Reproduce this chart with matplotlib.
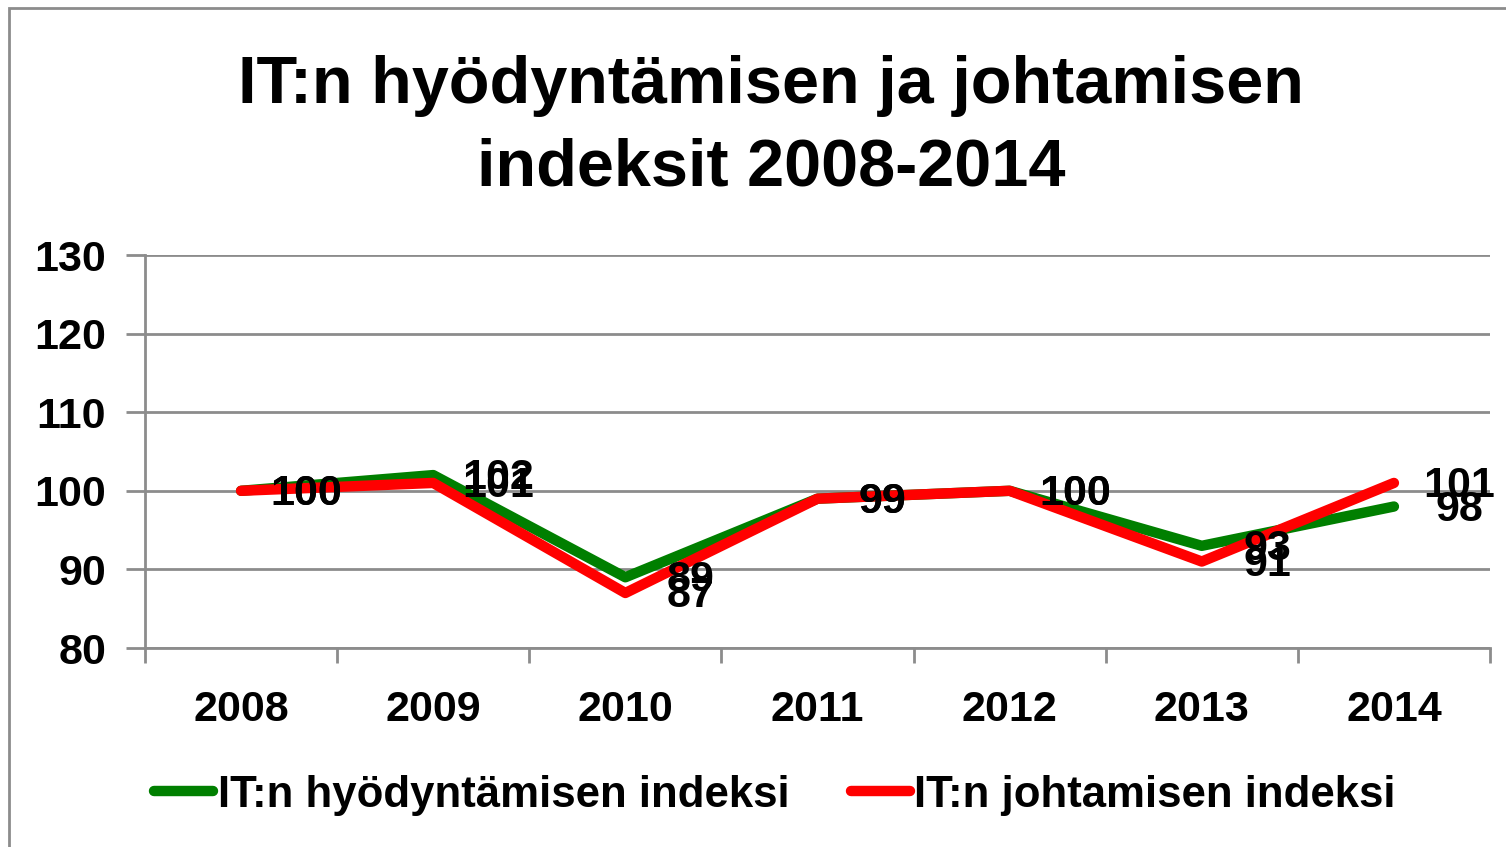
import matplotlib
matplotlib.use("Agg")
from matplotlib import pyplot as plt
from matplotlib.patches import Rectangle

# Data.
years = ['2008', '2009', '2010', '2011', '2012', '2013', '2014']
hyodyntaminen = [100, 102, 89, 99, 100, 93, 98]
johtaminen = [100, 101, 87, 99, 100, 91, 101]
y_ticks = [80, 90, 100, 110, 120, 130]

title = "IT:n hyödyntämisen ja johtamisen\nindeksit 2008-2014"
label_green = "IT:n hyödyntämisen indeksi"
label_red = "IT:n johtamisen indeksi"


def main():
    plt.rcParams['font.family'] = ['Liberation Sans', 'DejaVu Sans']
    plt.rcParams['font.weight'] = 'bold'

    fig = plt.figure(dpi=100, figsize=(15.06, 8.47))
    ax = fig.add_axes([145 / 1506, 1 - 648 / 847, 1345 / 1506, 393 / 847])

    # Outer chart border.
    fig.patches.append(Rectangle((9 / 1506, -0.01), 1.02, 1 - 8 / 847 + 0.01,
                                 transform=fig.transFigure, fill=False,
                                 edgecolor='#8c8c8c', linewidth=2))

    x = list(range(len(years)))
    ax.plot(x, hyodyntaminen, color='#007f00', linewidth=7.5,
            solid_capstyle='round', label=label_green, zorder=3)
    ax.plot(x, johtaminen, color='#ff0000', linewidth=7.5,
            solid_capstyle='round', label=label_red, zorder=4)

    # Data labels to the right of each point.
    for i in x:
        for v in (hyodyntaminen[i], johtaminen[i]):
            ax.text(i + 0.34, v - 0.4, str(v), ha='center', va='center',
                    fontsize=31, fontweight='bold', color='black', zorder=5)

    ax.set_xlim(-0.5, len(years) - 0.5)
    ax.set_ylim(80, 130)
    ax.set_yticks(y_ticks)
    ax.set_yticklabels([str(t) for t in y_ticks])
    ax.yaxis.grid(True, color='#8c8c8c', linewidth=2)
    ax.set_axisbelow(True)

    ax.set_xticks(x)
    ax.set_xticklabels(years)
    ax.set_xticks([i - 0.5 for i in range(len(years) + 1)], minor=True)
    ax.tick_params(axis='x', which='major', length=0, pad=30, labelsize=31)
    ax.tick_params(axis='x', which='minor', length=11, width=2,
                   color='#8c8c8c', direction='out')
    ax.tick_params(axis='y', length=14, width=2, color='#8c8c8c',
                   labelsize=31, pad=14)

    for side in ('top', 'right'):
        ax.spines[side].set_visible(False)
    for side in ('left', 'bottom'):
        ax.spines[side].set_color('#8c8c8c')
        ax.spines[side].set_linewidth(2)

    fig.text(771 / 1506, 1 - 127 / 847, title, ha='center', va='center',
             fontsize=48, fontweight='bold', linespacing=1.42)

    ax.legend(loc='center', bbox_to_anchor=(775 / 1506, 1 - 795 / 847),
              bbox_transform=fig.transFigure, ncol=2, frameon=False,
              fontsize=31.5, handlelength=1.35, handletextpad=0.1,
              columnspacing=1.4)

    fig.savefig('out.png', dpi=100)


if __name__ == '__main__':
    main()
